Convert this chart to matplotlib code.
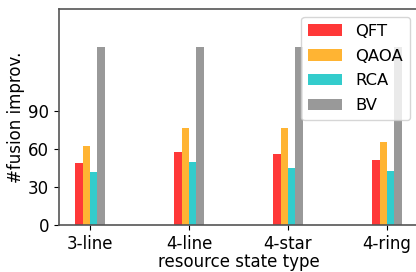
import matplotlib
matplotlib.use("Agg")
import matplotlib.pyplot as plt
import numpy as np

categories = ["3-line", "4-line", "4-star", "4-ring"]
series_names = ["QFT", "QAOA", "RCA", "BV"]
qft = [49, 57.5, 56, 51.5]
qaoa = [62, 76.5, 76.5, 65.5]
rca = [42, 49.5, 45, 42.5]
bv = [140.5, 140.5, 140.5, 140.5]
yticks = [0, 30, 60, 90]
colors = ["#FF3838", "#FFB433", "#33CCCC", "#999999"]

fs = 12
fig = plt.figure(figsize=(4.16, 2.72), dpi=100)
ax = fig.add_axes([59/416, 1-225/272, (419-59)/416, (225-9)/272])
x = np.arange(len(categories))
w = 0.075
for i, (name, vals) in enumerate(zip(series_names, [qft, qaoa, rca, bv])):
    ax.bar(x + (i - 1.5) * w, vals, width=w, color=colors[i], label=name)

ax.set_xticks(x)
ax.set_xticklabels(categories, fontsize=fs)
ax.set_yticks(yticks)
ax.set_yticklabels([str(t) for t in yticks], fontsize=fs)
ax.set_xlim(-0.313, 3.323)
ax.set_ylim(0, 170.5)
ax.set_xlabel("resource state type", fontsize=fs, labelpad=0)
ax.set_ylabel("#fusion improv.", fontsize=fs, labelpad=2)
for s in ax.spines.values():
    s.set_color("#555555")
    s.set_linewidth(1.2)
ax.legend(loc="upper right", fontsize=11.8, handlelength=2.1, labelspacing=0.6,
          bbox_to_anchor=((418-59)/360, 1.0))
fig.savefig("out.png", dpi=100)
